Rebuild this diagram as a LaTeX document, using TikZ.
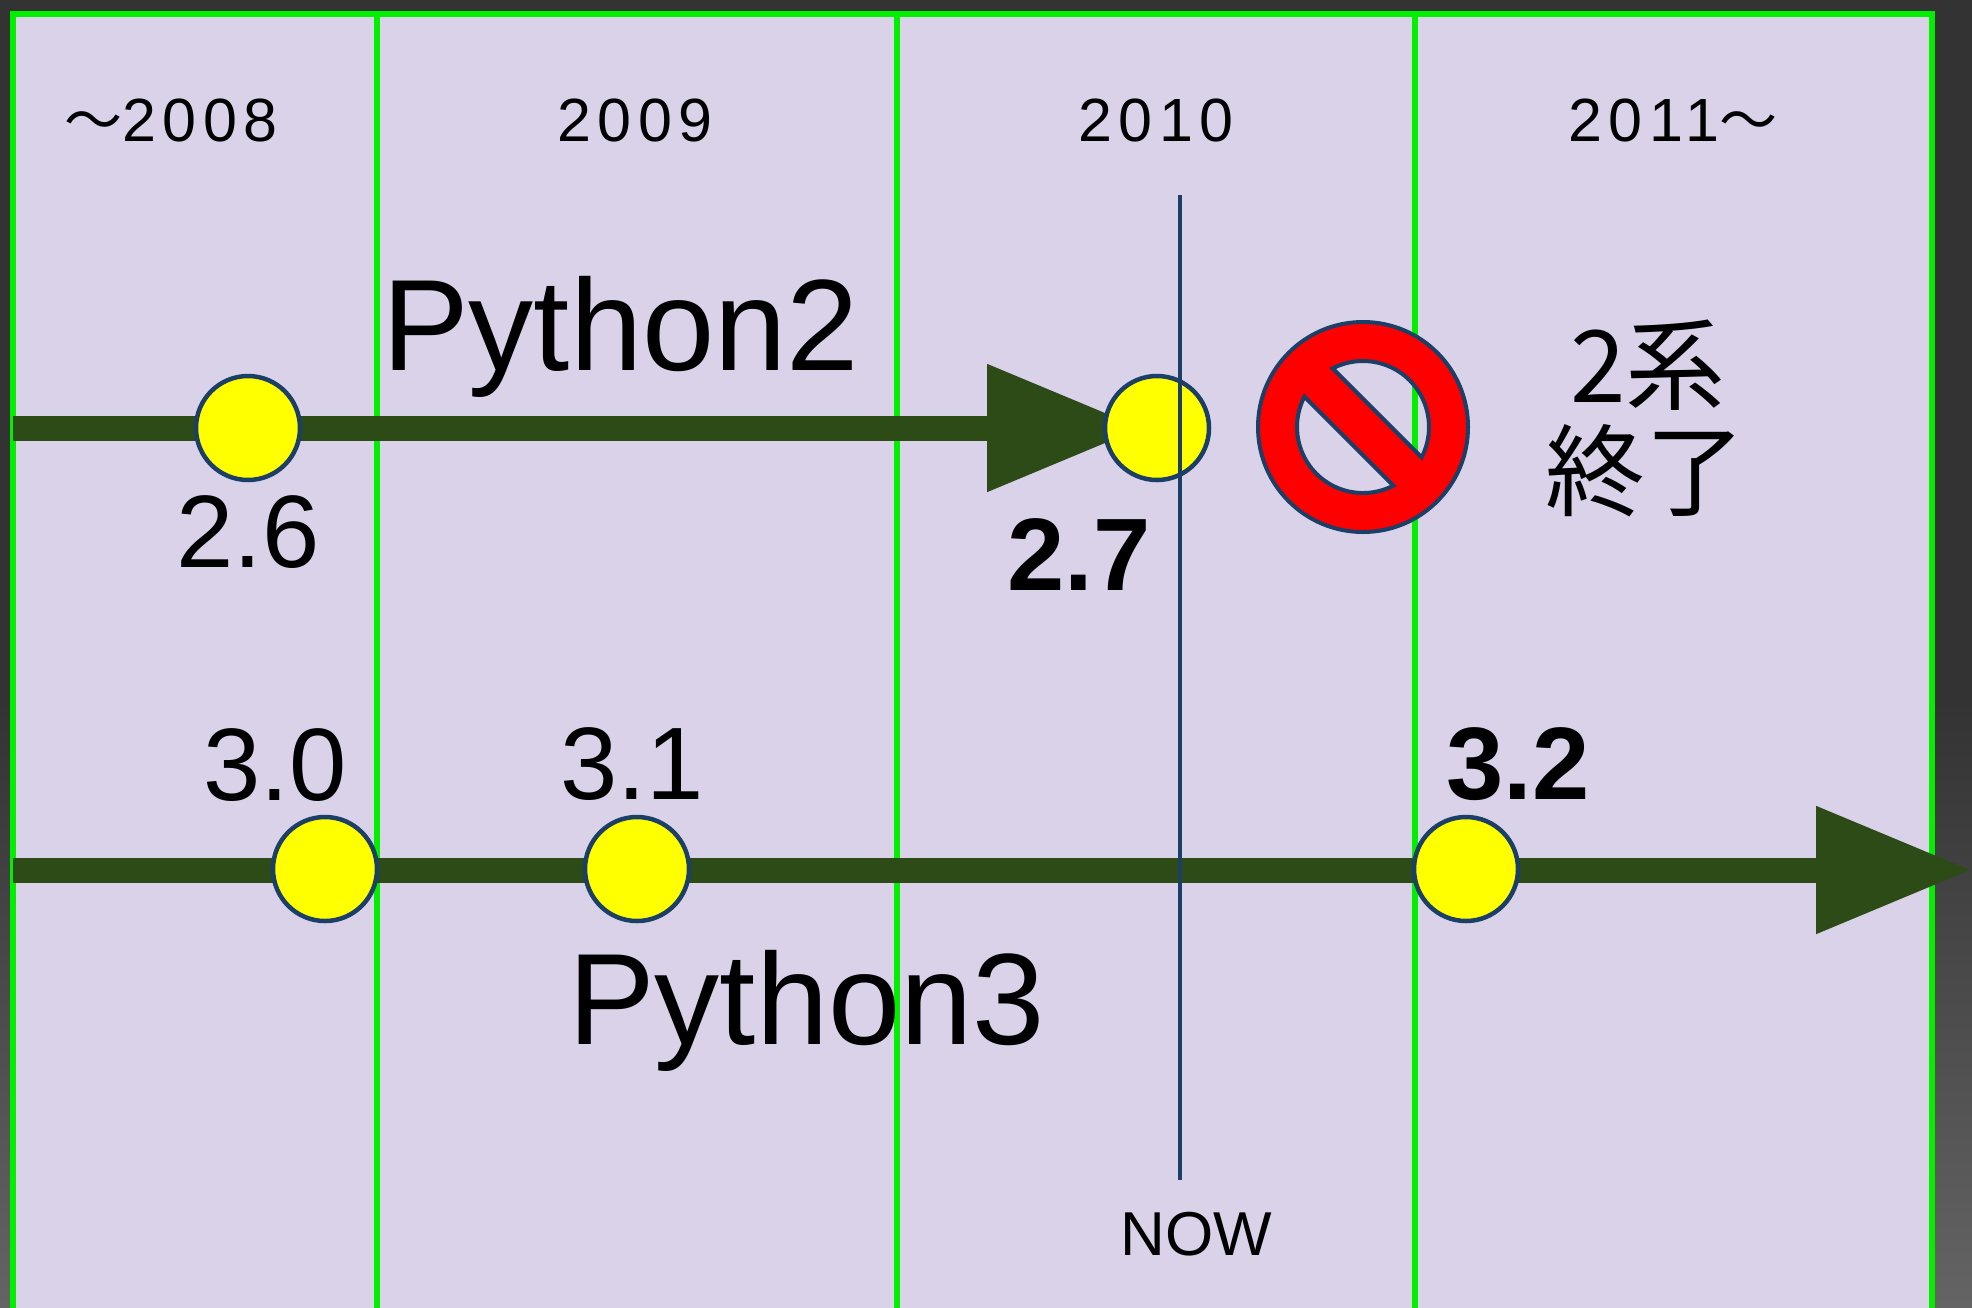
\documentclass[tikz,border=0pt]{standalone}
\usepackage{fontspec}
\setmainfont{Liberation Sans}
\newfontfamily\yearfont[LetterSpace=11]{Liberation Sans}
\newfontfamily\jpfont{Noto Sans CJK JP}
\usetikzlibrary{arrows.meta}
\definecolor{bgdark}{HTML}{333333}
\definecolor{bgbot}{HTML}{646464}
\definecolor{lav}{HTML}{D9D2E9}
\definecolor{gridgreen}{HTML}{00F000}
\definecolor{trackgreen}{HTML}{2C4B17}
\definecolor{navy}{HTML}{1B3F66}
\definecolor{dotyellow}{HTML}{FFFF00}
\definecolor{signred}{HTML}{FF0000}
\begin{document}
\begin{tikzpicture}[x=1pt,y=-1pt,
  grid/.style={draw=gridgreen, line width=6pt},
  track/.style={draw=trackgreen, fill=trackgreen, line width=25pt, -{Triangle[length=156pt,width=121pt]}},
  ver/.style={circle, draw=navy, line width=4.5pt, fill=dotyellow, minimum size=104pt, inner sep=0pt},
  nowline/.style={draw=navy, line width=3.5pt},
  year/.style={font=\yearfont\fontsize{61}{61}\selectfont, inner sep=0pt},
  lbl/.style={font=\fontsize{103}{103}\selectfont, inner sep=0pt},
  blbl/.style={font=\bfseries\fontsize{103}{103}\selectfont, inner sep=0pt},
  big/.style={font=\fontsize{130}{130}\selectfont, inner sep=0pt},
  nowtxt/.style={font=\fontsize{62}{62}\selectfont, inner sep=0pt},
  jp/.style={font=\jpfont\fontsize{100}{100}\selectfont, inner sep=0pt},
  sign/.style={fill=signred, draw=navy, line width=4pt, even odd rule}]
\useasboundingbox (0,0) rectangle (1972,1307);
% background
\fill[bgdark] (0,0) rectangle (1972,700);
\shade[top color=bgdark, bottom color=bgbot] (0,699) rectangle (1972,1307);
\fill[lav] (12.6,14) rectangle (1932,1320);
% column lines and frame
\draw[grid] (377,14) -- (377,1320);
\draw[grid] (897,14) -- (897,1320);
\draw[grid] (1415,14) -- (1415,1320);
\draw[grid] (12.6,1320) |- (1932,14) -- (1932,1320);
% years
\node[year, anchor=base] (y08) at (171,141) {{\jpfont\fontsize{58}{58}\selectfont ～}2008};
\node[year, anchor=base] (y09) at (635,141) {2009};
\node[year, anchor=base] (y10) at (1156,141) {2010};
\node[year, anchor=base] (y11) at (1673,141) {2011{\jpfont\fontsize{58}{58}\selectfont ～}};
% tracks
\coordinate (p2s) at (13,428);
\coordinate (p2tip) at (1143,428);
\coordinate (p3s) at (13,870);
\coordinate (p3tip) at (1972,870);
\draw[track] (p2s) -- (p2tip);
\draw[track] (p3s) -- (p3tip);
% version dots
\node[ver] (v26) at (248,428) {};
\node[ver] (v27) at (1157,428) {};
\node[ver] (v30) at (325,869) {};
\node[ver] (v31) at (637,869) {};
\node[ver] (v32) at (1466,869) {};
% NOW line
\coordinate (nowtop) at (1180,195);
\coordinate (nowbot) at (1180,1180);
\draw[nowline] (nowtop) -- (nowbot);
\node[nowtxt, anchor=base] (nowlbl) at (1196,1255) {NOW};
% labels
\node[big, anchor=base west] (py2) at (382,370) {Python2};
\node[big, anchor=base west] (py3) at (568,1044) {Python3};
\node[lbl, anchor=base] (l26) at (248,567) {2.6};
\node[blbl, anchor=base] (l27) at (1079,590) {2.7};
\node[lbl, anchor=base] (l30) at (275,800) {3.0};
\node[lbl, anchor=base] (l31) at (632,799) {3.1};
\node[blbl, anchor=base] (l32) at (1518,799) {3.2};
% prohibition sign
\coordinate (ns) at (1363,427);
\path[sign] (ns) circle (105)
  ([shift={(-117.4:66)}]ns) arc[start angle=-117.4, end angle=27.4, radius=66] -- cycle
  ([shift={(62.6:66)}]ns) arc[start angle=62.6, end angle=207.4, radius=66] -- cycle;
% Japanese text
\node[jp, anchor=base] (j1) at (1648,402) {2系};
\node[jp, anchor=base] (j2) at (1645,508) {終了};
\end{tikzpicture}
\end{document}
